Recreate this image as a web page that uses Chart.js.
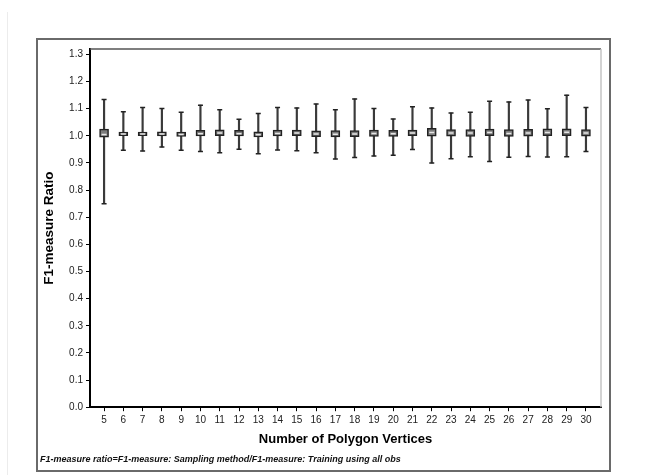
<!DOCTYPE html>
<html>
<head>
<meta charset="utf-8">
<script src="https://cdn.jsdelivr.net/npm/chart.js@4.4.1/dist/chart.umd.min.js"></script>
<style>
body { margin: 0; background: #fff; }
#wrap { position: relative; width: 660px; height: 475px; }
#edge { position: absolute; left: 7px; top: 12px; width: 1px; height: 463px; background: #ececec; }
#frame { position: absolute; left: 36px; top: 38px; width: 571px; height: 430px; border: 2px solid #6a6a6a; }
canvas { position: absolute; left: 0; top: 0; }
</style>
</head>
<body>
<div id="wrap">
  <div id="edge"></div>
  <div id="frame"></div>
  <canvas id="boxChart" width="660" height="475"></canvas>
</div>
<script>
const vertices = [5, 6, 7, 8, 9, 10, 11, 12, 13, 14, 15, 16, 17, 18, 19, 20, 21, 22, 23, 24, 25, 26, 27, 28, 29, 30];
const whiskerHigh = [1.134, 1.089, 1.104, 1.101, 1.087, 1.113, 1.096, 1.061, 1.082, 1.104, 1.103, 1.117, 1.096, 1.136, 1.101, 1.062, 1.107, 1.103, 1.084, 1.087, 1.127, 1.125, 1.132, 1.100, 1.150, 1.104];
const whiskerLow = [0.750, 0.947, 0.944, 0.959, 0.947, 0.942, 0.938, 0.951, 0.934, 0.948, 0.945, 0.938, 0.915, 0.920, 0.926, 0.928, 0.950, 0.900, 0.916, 0.923, 0.905, 0.921, 0.924, 0.922, 0.923, 0.942];
const boxHigh = [1.025, 1.014, 1.014, 1.015, 1.014, 1.020, 1.022, 1.020, 1.015, 1.021, 1.021, 1.018, 1.019, 1.019, 1.021, 1.020, 1.021, 1.028, 1.023, 1.023, 1.025, 1.023, 1.024, 1.026, 1.026, 1.023];
const boxLow = [0.995, 1.001, 1.001, 1.000, 0.998, 1.000, 1.001, 1.000, 0.996, 1.000, 1.001, 0.997, 0.996, 0.997, 0.998, 0.998, 1.001, 0.999, 0.999, 0.998, 1.001, 0.998, 0.999, 1.001, 1.001, 0.999];
const medians = [1.005, 1.007, 1.007, 1.007, 1.005, 1.008, 1.010, 1.008, 1.004, 1.009, 1.010, 1.007, 1.006, 1.007, 1.009, 1.008, 1.010, 1.012, 1.010, 1.010, 1.012, 1.009, 1.010, 1.012, 1.013, 1.010];
const yTicks = [0, 0.1, 0.2, 0.3, 0.4, 0.5, 0.6, 0.7, 0.8, 0.9, 1.0, 1.1, 1.2, 1.3];

const font = 'Arial, "Liberation Sans", sans-serif';

// top and right edges of the plot box
const plotFrame = {
    id: 'plotFrame',
    beforeDatasetsDraw(chart) {
        const { ctx, chartArea: a } = chart;
        ctx.save();
        ctx.lineWidth = 1.5;
        ctx.strokeStyle = '#555';
        ctx.beginPath();
        ctx.moveTo(a.left, a.top);
        ctx.lineTo(a.right, a.top);
        ctx.stroke();
        ctx.strokeStyle = '#c4c4c4';
        ctx.beginPath();
        ctx.moveTo(a.right, a.top);
        ctx.lineTo(a.right, a.bottom);
        ctx.stroke();
        ctx.restore();
    }
};

const ctx = document.getElementById('boxChart').getContext('2d');
const boxChart = new Chart(ctx, {
    type: 'bar',
    data: {
        datasets: [
            {
                type: 'scatter',
                data: medians.map((m, i) => ({ x: vertices[i], y: m })),
                pointStyle: 'line',
                radius: 2.5,
                borderColor: '#e6e6e6',
                borderWidth: 1.5,
                order: 1
            },
            {
                data: vertices.map((v, i) => ({ x: v, y: [boxLow[i], boxHigh[i]] })),
                backgroundColor: '#7c7c7c',
                borderColor: '#222',
                borderWidth: 1.5,
                borderSkipped: false,
                barThickness: 9,
                grouped: false,
                order: 2
            },
            {
                type: 'scatter',
                data: vertices.map((v, i) => ({ x: v, y: whiskerHigh[i] }))
                    .concat(vertices.map((v, i) => ({ x: v, y: whiskerLow[i] }))),
                pointStyle: 'line',
                radius: 2.5,
                borderColor: '#222',
                borderWidth: 1.5,
                order: 3
            },
            {
                data: vertices.map((v, i) => ({ x: v, y: [whiskerLow[i], whiskerHigh[i]] })),
                backgroundColor: '#3a3a3a',
                barThickness: 1.5,
                grouped: false,
                order: 4
            }
        ]
    },
    options: {
        responsive: false,
        animation: false,
        layout: { padding: { left: 40, right: 59, top: 49, bottom: 6 } },
        plugins: {
            legend: { display: false },
            tooltip: { enabled: false },
            title: {
                display: true,
                position: 'bottom',
                align: 'start',
                text: 'F1-measure ratio=F1-measure: Sampling method/F1-measure: Training using all obs',
                color: '#111',
                font: { family: font, size: 9, style: 'italic', weight: 'bold' },
                padding: { top: 4, bottom: 4 }
            }
        },
        scales: {
            x: {
                type: 'linear',
                offset: false,
                min: 4.27,
                max: 30.78,
                afterBuildTicks: s => { s.ticks = vertices.map(v => ({ value: v })); },
                afterFit: s => { s.height = 43; },
                grid: { drawOnChartArea: false, drawTicks: true, tickLength: 4, color: '#000', offset: false },
                border: { display: true, color: '#000', width: 2 },
                ticks: {
                    autoSkip: false,
                    maxRotation: 0,
                    padding: 3,
                    color: '#222',
                    font: { family: font, size: 10 }
                },
                title: {
                    display: true,
                    text: 'Number of Polygon Vertices',
                    color: '#000',
                    font: { family: font, size: 13, weight: 'bold' },
                    padding: { top: 0, bottom: 3 }
                }
            },
            y: {
                min: 0,
                max: 1.32,
                afterBuildTicks: s => { s.ticks = yTicks.map(v => ({ value: v })); },
                afterFit: s => { s.width = 50; },
                grid: { drawOnChartArea: false, drawTicks: true, tickLength: 4, color: '#000' },
                border: { display: true, color: '#000', width: 2 },
                ticks: {
                    padding: 3,
                    color: '#222',
                    font: { family: font, size: 10 },
                    callback: value => value.toFixed(1)
                },
                title: {
                    display: true,
                    text: 'F1-measure Ratio',
                    color: '#000',
                    font: { family: font, size: 13.5, weight: 'bold' },
                    padding: { top: 1, bottom: 0 }
                }
            }
        }
    },
    plugins: [plotFrame]
});
</script>
</body>
</html>
